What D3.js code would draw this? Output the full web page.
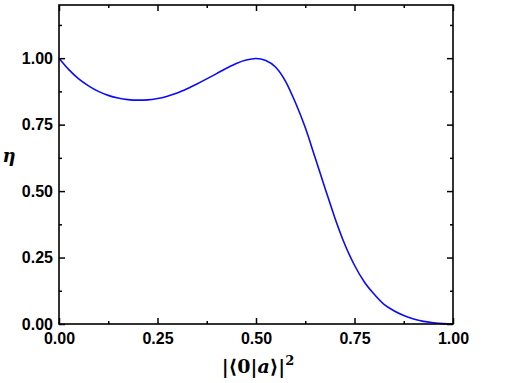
<!DOCTYPE html>
<html><head><meta charset="utf-8">
<script src="https://cdn.jsdelivr.net/npm/d3@7"></script>
<style>body{margin:0;background:#fff}</style>
</head><body><svg id="c" width="512" height="383"></svg>
<script>
const xValues = [0,0.025,0.05,0.075,0.1,0.125,0.15,0.175,0.2,0.225,0.25,0.275,0.3,0.325,0.35,0.375,0.4,0.425,0.45,0.475,0.5,0.525,0.55,0.575,0.6,0.625,0.65,0.675,0.7,0.725,0.75,0.775,0.8,0.825,0.85,0.875,0.9,0.925,0.95,0.975,1.0];
const etaValues = [1.000,0.957,0.922,0.896,0.875,0.860,0.850,0.844,0.842,0.843,0.848,0.857,0.869,0.885,0.903,0.922,0.942,0.962,0.980,0.993,0.999,0.991,0.966,0.913,0.833,0.739,0.626,0.512,0.400,0.301,0.221,0.158,0.112,0.074,0.050,0.032,0.019,0.010,0.005,0.0015,0.000];
const xTicks = [0,0.25,0.5,0.75,1.0];
const xTickLabels = ["0.00","0.25","0.50","0.75","1.00"];
const yTicks = [0,0.25,0.5,0.75,1.0];
const yTickLabels = ["0.00","0.25","0.50","0.75","1.00"];
const xMinor = [0.125,0.375,0.625,0.875];
const yMinor = [0.125,0.375,0.625,0.875,1.125];

const L=59,R=453,T=5,B=324;
const svg=d3.select("#c");
const x=d3.scaleLinear().domain([0,1]).range([L,R]);
const y=d3.scaleLinear().domain([0,1.2]).range([B,T]);

const data=xValues.map((v,i)=>[v,etaValues[i]]);
svg.append("path").datum(data)
  .attr("d",d3.line().x(d=>x(d[0])).y(d=>y(d[1])).curve(d3.curveMonotoneX))
  .attr("fill","none").attr("stroke","#0a0aff").attr("stroke-width",1.6);

const font="'Liberation Sans', Arial, sans-serif";
function axis(gen,tr,ticks,len,labels){
  const g=svg.append("g").attr("transform",tr)
    .call(gen.tickValues(ticks).tickSize(len).tickFormat((d,i)=>labels?labels[i]:""));
  g.select(".domain").remove();
  g.selectAll("line").attr("stroke","#000").attr("stroke-width",1.5);
  g.selectAll("text").attr("font-family",font).attr("font-weight","bold").attr("font-size","16px").attr("fill","#000");
  return g;
}
// bottom
const gb=axis(d3.axisBottom(x),`translate(0,${B})`,xTicks,-6,xTickLabels);
gb.selectAll("text").attr("y",8.5).attr("dy","0.71em");
axis(d3.axisBottom(x),`translate(0,${B})`,xMinor,-3,null).selectAll("text").remove();
// top
axis(d3.axisTop(x),`translate(0,${T})`,xTicks,-6,null).selectAll("text").remove();
axis(d3.axisTop(x),`translate(0,${T})`,xMinor,-3,null).selectAll("text").remove();
// left
const gl=axis(d3.axisLeft(y),`translate(${L},0)`,yTicks,-6,yTickLabels);
gl.selectAll("text").attr("x",-6);
axis(d3.axisLeft(y),`translate(${L},0)`,yMinor,-3,null).selectAll("text").remove();
// right
axis(d3.axisRight(y),`translate(${R},0)`,yTicks,-6,null).selectAll("text").remove();
axis(d3.axisRight(y),`translate(${R},0)`,yMinor,-3,null).selectAll("text").remove();

svg.append("rect").attr("x",L).attr("y",T).attr("width",R-L).attr("height",B-T)
  .attr("fill","none").attr("stroke","#000").attr("stroke-width",1.6);

const serif="'DejaVu Serif','Liberation Serif',serif";
const xt=svg.append("text").attr("x",258).attr("y",373).attr("text-anchor","middle")
  .attr("font-family",serif).attr("font-weight","bold").attr("font-size","19px").attr("fill","#000");
xt.append("tspan").text("|⟨0|");
xt.append("tspan").attr("font-style","italic").text("a");
xt.append("tspan").text("⟩|");
xt.append("tspan").attr("font-size","13px").attr("dy","-8").text("2");

svg.append("text").attr("x",9).attr("y",162).attr("text-anchor","middle")
  .attr("font-family",serif).attr("font-weight","bold").attr("font-style","italic")
  .attr("font-size","18px").attr("fill","#000").text("η");
</script></body></html>
